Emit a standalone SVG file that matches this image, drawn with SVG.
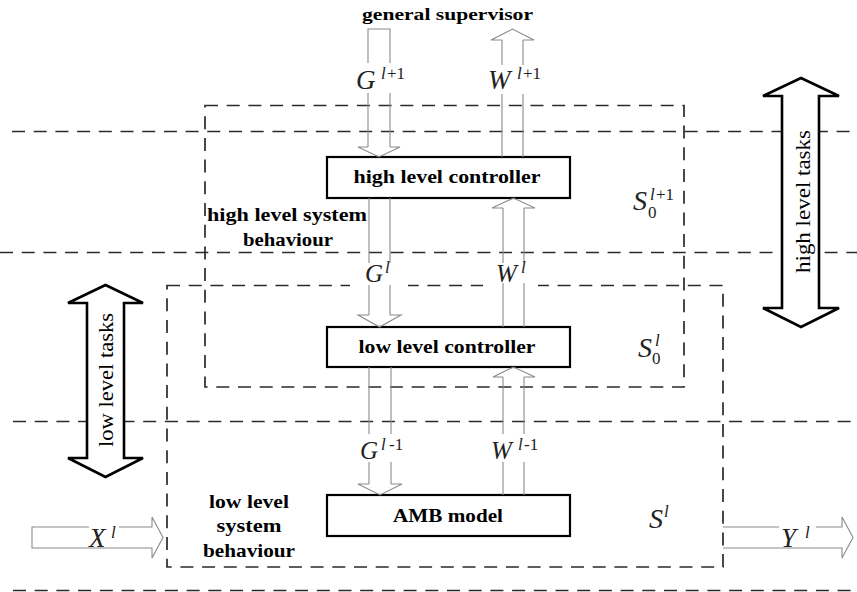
<svg xmlns="http://www.w3.org/2000/svg" width="857" height="592" viewBox="0 0 857 592">
<style>
.bg{fill:#fff}
.dash{fill:none;stroke:#2a2a2a;stroke-width:1.7;stroke-dasharray:13 8.7}
.box{fill:#fff;stroke:#000;stroke-width:2.2}
.sig{fill:none;stroke:#8a8a8a;stroke-width:1.1}
.big{fill:#fff;stroke:#000;stroke-width:2.6;stroke-linejoin:miter}
.b{font-family:"Liberation Serif",serif;font-weight:bold;fill:#000}
.r{font-family:"Liberation Serif",serif;fill:#000}
.m{font-family:"Liberation Serif",serif;font-style:italic;fill:#222}
.n{font-family:"Liberation Serif",serif;fill:#222}
</style>
<rect class="bg" x="0" y="0" width="857" height="592"/>

<g id="layer-lines">
<line class="dash" x1="12" y1="131.5" x2="857" y2="131.5"/>
<line class="dash" x1="0" y1="252.5" x2="857" y2="252.5"/>
<line class="dash" x1="13" y1="421.5" x2="857" y2="421.5"/>
<line class="dash" x1="13" y1="590.5" x2="857" y2="590.5"/>
</g>

<g id="high-level-system">
<rect class="dash" x="205" y="105.5" width="479" height="281.5"/>
<text class="b" x="287" y="221" font-size="19" text-anchor="middle" textLength="160" lengthAdjust="spacingAndGlyphs">high level system</text>
<text class="b" x="288" y="246" font-size="19" text-anchor="middle" textLength="90" lengthAdjust="spacingAndGlyphs">behaviour</text>
<text class="m" x="633" y="210" font-size="28">S</text>
<text class="n" x="648" y="218" font-size="17">0</text>
<text class="m" x="650" y="200" font-size="17">l</text>
<text class="n" x="656" y="200" font-size="17">+1</text>
</g>

<g id="low-level-system">
<rect class="dash" x="167" y="285.5" width="556" height="281.5"/>
<text class="b" x="249" y="508" font-size="19" text-anchor="middle" textLength="80" lengthAdjust="spacingAndGlyphs">low level</text>
<text class="b" x="249" y="532" font-size="19" text-anchor="middle" textLength="65" lengthAdjust="spacingAndGlyphs">system</text>
<text class="b" x="249" y="557" font-size="19" text-anchor="middle" textLength="92" lengthAdjust="spacingAndGlyphs">behaviour</text>
<text class="m" x="649" y="528" font-size="28">S</text>
<text class="m" x="664" y="517" font-size="17">l</text>
</g>

<g id="s0l-label">
<text class="m" x="638" y="357" font-size="28">S</text>
<text class="n" x="652" y="364" font-size="17">0</text>
<text class="m" x="655" y="346" font-size="17">l</text>
</g>

<g id="high-level-tasks">
<polygon class="big" points="801,78 839,96 819,96 819,308 839,308 801,327 763,308 782,308 782,96 763,96"/>
<text class="r" transform="translate(810,201.5) rotate(-90)" font-size="22" text-anchor="middle" textLength="143" lengthAdjust="spacingAndGlyphs">high level tasks</text>
</g>

<g id="low-level-tasks">
<polygon class="big" points="105.5,285 143,303 124,303 124,458 143,458 105.5,477 68,458 87,458 87,303 68,303"/>
<text class="r" transform="translate(113,380) rotate(-90)" font-size="22" text-anchor="middle" textLength="134" lengthAdjust="spacingAndGlyphs">low level tasks</text>
</g>

<g id="general-supervisor">
<text class="b" x="447.5" y="20" font-size="17" text-anchor="middle" textLength="171" lengthAdjust="spacingAndGlyphs">general supervisor</text>
</g>

<g id="high-level-controller">
<rect class="box" x="327" y="157" width="243" height="41"/>
<text class="b" x="447" y="183" font-size="19" text-anchor="middle" textLength="187" lengthAdjust="spacingAndGlyphs">high level controller</text>
</g>

<g id="low-level-controller">
<rect class="box" x="327" y="327" width="243" height="40"/>
<text class="b" x="447" y="353" font-size="19" text-anchor="middle" textLength="177" lengthAdjust="spacingAndGlyphs">low level controller</text>
</g>

<g id="amb-model">
<rect class="box" x="327" y="495" width="243" height="41"/>
<text class="b" x="448" y="522" font-size="19" text-anchor="middle" textLength="110" lengthAdjust="spacingAndGlyphs">AMB model</text>
</g>

<g id="connectors">
<polyline class="sig" points="368,63 368,29 390,29 390,63"/>
<line class="sig" x1="368" y1="93" x2="368" y2="147"/>
<line class="sig" x1="390" y1="93" x2="390" y2="147"/>
<polyline class="sig" points="368,147 358,147 379,157 400,147 390,147"/>
<polyline class="sig" points="502,40 491,40 512.5,29 534,40 523,40"/>
<line class="sig" x1="502" y1="40" x2="502" y2="65"/>
<line class="sig" x1="523" y1="40" x2="523" y2="65"/>
<line class="sig" x1="502" y1="94" x2="502" y2="157"/>
<line class="sig" x1="523" y1="94" x2="523" y2="157"/>
<line class="sig" x1="369" y1="198" x2="369" y2="263"/>
<line class="sig" x1="390" y1="198" x2="390" y2="263"/>
<rect class="bg" x="350" y="263" width="58" height="24"/>
<line class="sig" x1="369" y1="285" x2="369" y2="315"/>
<line class="sig" x1="390" y1="285" x2="390" y2="315"/>
<polyline class="sig" points="369,315 358,315 379.5,327 401,315 390,315"/>
<polyline class="sig" points="503,208 492,208 513.5,198 535,208 524,208"/>
<line class="sig" x1="503" y1="208" x2="503" y2="263"/>
<line class="sig" x1="524" y1="208" x2="524" y2="263"/>
<rect class="bg" x="483" y="263" width="55" height="24"/>
<line class="sig" x1="503" y1="283" x2="503" y2="327"/>
<line class="sig" x1="524" y1="283" x2="524" y2="327"/>
<line class="sig" x1="369" y1="367" x2="369" y2="434"/>
<line class="sig" x1="391" y1="367" x2="391" y2="434"/>
<line class="sig" x1="369" y1="462" x2="369" y2="484"/>
<line class="sig" x1="391" y1="462" x2="391" y2="484"/>
<polyline class="sig" points="369,484 358,484 380,495 402,484 391,484"/>
<polyline class="sig" points="503,377 493,377 513.5,367 535,377 524,377"/>
<line class="sig" x1="503" y1="377" x2="503" y2="434"/>
<line class="sig" x1="524" y1="377" x2="524" y2="434"/>
<line class="sig" x1="503" y1="462" x2="503" y2="495"/>
<line class="sig" x1="524" y1="462" x2="524" y2="495"/>
<polyline class="sig" points="89,527 32,527 32,548 152,548 152,558 163,537.5 152,517 152,527 119,527"/>
<polyline class="sig" points="779,527 723,527"/>
<polyline class="sig" points="816,527 842,527 842,517 853,537.5 842,558 842,548 723,548"/>
</g>

<g id="signal-labels">
<text class="m" x="356" y="89" font-size="27">G</text>
<text class="m" x="381" y="79" font-size="17">l</text>
<text class="n" x="387" y="79" font-size="17">+1</text>

<text class="m" x="488" y="89" font-size="27">W</text>
<text class="m" x="517" y="79" font-size="17">l</text>
<text class="n" x="523" y="79" font-size="17">+1</text>

<text class="m" x="365" y="282" font-size="25">G</text>
<text class="m" x="385" y="273" font-size="17">l</text>

<text class="m" x="496" y="282" font-size="25">W</text>
<text class="m" x="521" y="273" font-size="17">l</text>

<text class="m" x="360" y="459" font-size="25">G</text>
<text class="m" x="381" y="450" font-size="17">l</text>
<text class="n" x="389" y="450" font-size="17">-1</text>

<text class="m" x="491" y="459" font-size="25">W</text>
<text class="m" x="518" y="450" font-size="17">l</text>
<text class="n" x="524" y="450" font-size="17">-1</text>

<text class="m" x="89" y="547" font-size="27">X</text>
<text class="m" x="111" y="538" font-size="17">l</text>

<text class="m" x="781" y="547" font-size="27">Y</text>
<text class="m" x="805" y="538" font-size="17">l</text>
</g>
</svg>
